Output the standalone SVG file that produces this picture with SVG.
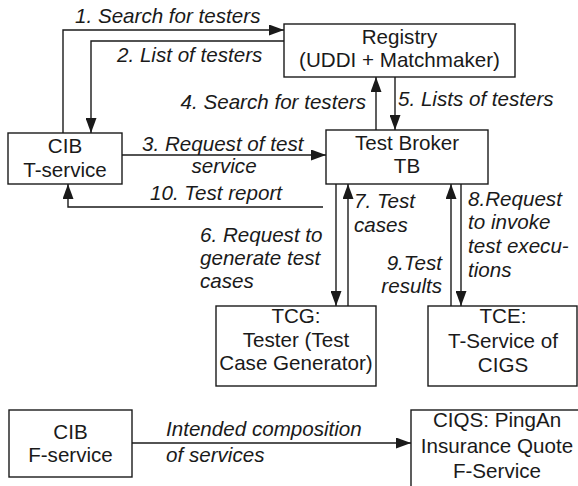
<svg xmlns="http://www.w3.org/2000/svg" width="578" height="486" viewBox="0 0 578 486">
  <style>
    .box { fill: #ffffff; stroke: #1a1a1a; stroke-width: 1.4; }
    .node { font-family: "Liberation Sans", Arial, sans-serif; font-size: 20.6px; fill: #1a1a1a; text-anchor: middle; }
    .lbl { font-family: "Liberation Sans", Arial, sans-serif; font-size: 20.6px; font-style: italic; fill: #1a1a1a; }
    .edge { fill: none; stroke: #1a1a1a; stroke-width: 1.4; }
  </style>
  <defs>
    <marker id="arrow" markerUnits="userSpaceOnUse" markerWidth="15" markerHeight="11" refX="15" refY="5.5" orient="auto">
      <path d="M0,0 L15,5.5 L0,11 z" fill="#1a1a1a"/>
    </marker>
  </defs>
  <rect width="578" height="486" fill="#ffffff"/>

  <!-- connectors -->
  <g id="connectors">
    <path class="edge" d="M63,133 V30 H284" marker-end="url(#arrow)"/>
    <path class="edge" d="M284,41 H91 V133" marker-end="url(#arrow)"/>
    <path class="edge" d="M122,155 H326" marker-end="url(#arrow)"/>
    <path class="edge" d="M376,130 V77" marker-end="url(#arrow)"/>
    <path class="edge" d="M395,77 V130" marker-end="url(#arrow)"/>
    <path class="edge" d="M323,207 H68 V184" marker-end="url(#arrow)"/>
    <path class="edge" d="M336,184 V306" marker-end="url(#arrow)"/>
    <path class="edge" d="M348,306 V184" marker-end="url(#arrow)"/>
    <path class="edge" d="M451,306 V184" marker-end="url(#arrow)"/>
    <path class="edge" d="M461,184 V306" marker-end="url(#arrow)"/>
    <path class="edge" d="M132,443 H411" marker-end="url(#arrow)"/>

    <text class="lbl" x="75" y="23">1. Search for testers</text>
    <text class="lbl" x="117" y="62">2. List of testers</text>
    <text class="lbl" x="142" y="151">3. Request of test</text>
    <text class="lbl" x="224" y="173" text-anchor="middle">service</text>
    <text class="lbl" x="366" y="109" text-anchor="end">4. Search for testers</text>
    <text class="lbl" x="398" y="106">5. Lists of testers</text>
    <text class="lbl" x="200" y="242">6. Request to</text>
    <text class="lbl" x="200" y="265">generate test</text>
    <text class="lbl" x="200" y="288">cases</text>
    <text class="lbl" x="354" y="208">7. Test</text>
    <text class="lbl" x="354" y="232">cases</text>
    <text class="lbl" x="468" y="206">8.Request</text>
    <text class="lbl" x="468" y="229">to invoke</text>
    <text class="lbl" x="468" y="253">test execu-</text>
    <text class="lbl" x="468" y="277">tions</text>
    <text class="lbl" x="442" y="270" text-anchor="end">9.Test</text>
    <text class="lbl" x="442" y="293" text-anchor="end">results</text>
    <text class="lbl" x="150" y="200">10. Test report</text>
    <text class="lbl" x="166" y="436">Intended composition</text>
    <text class="lbl" x="166" y="462">of services</text>
  </g>

  <g id="registry">
    <rect class="box" x="284" y="24" width="231" height="53"/>
    <text class="node" x="399.5" y="44">Registry</text>
    <text class="node" x="399.5" y="67">(UDDI + Matchmaker)</text>
  </g>

  <g id="cib-t-service">
    <rect class="box" x="8" y="133" width="114" height="51"/>
    <text class="node" x="65" y="153">CIB</text>
    <text class="node" x="65" y="177">T-service</text>
  </g>

  <g id="test-broker">
    <rect class="box" x="326" y="130" width="162" height="54"/>
    <text class="node" x="407" y="150">Test Broker</text>
    <text class="node" x="407" y="173">TB</text>
  </g>

  <g id="tcg">
    <rect class="box" x="216" y="306" width="160" height="80"/>
    <text class="node" x="296" y="323">TCG:</text>
    <text class="node" x="296" y="347">Tester (Test</text>
    <text class="node" x="296" y="370">Case Generator)</text>
  </g>

  <g id="tce">
    <rect class="box" x="428" y="306" width="149" height="80"/>
    <text class="node" x="503" y="323">TCE:</text>
    <text class="node" x="503" y="348">T-Service of</text>
    <text class="node" x="503" y="372">CIGS</text>
  </g>

  <g id="cib-f-service">
    <rect class="box" x="9" y="410" width="123" height="67"/>
    <text class="node" x="70.5" y="439">CIB</text>
    <text class="node" x="70.5" y="462">F-service</text>
  </g>

  <g id="ciqs">
    <rect class="box" x="411" y="410" width="175" height="82"/>
    <text class="node" x="497" y="427">CIQS: PingAn</text>
    <text class="node" x="497" y="453">Insurance Quote</text>
    <text class="node" x="497" y="478">F-Service</text>
  </g>
</svg>
